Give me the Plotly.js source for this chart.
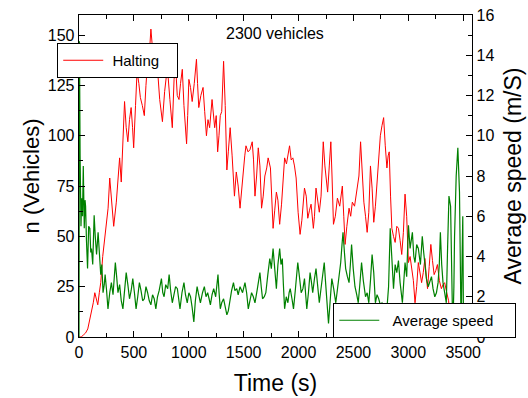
<!DOCTYPE html>
<html>
<head>
<meta charset="utf-8">
<script src="https://cdn.plot.ly/plotly-3.0.1.min.js"></script>
<style>
html,body{margin:0;padding:0;background:#fff;}
#chart{width:528px;height:398px;}
</style>
</head>
<body>
<div id="chart"></div>
<script>
// Halting vehicles (left axis)
const haltTime = [0,20,40,60,80,100,114,130,144,160,171,185,198,216,232,250,265,280,298,316,340,355,370,385,400,415,430,445,460,475,488,498,515,529,545,559,577,595,610,625,640,655,670,685,698,710,735,760,780,805,828,850,866,880,895,911,925,941,956,970,980,990,1001,1016,1031,1050,1070,1080,1091,1110,1130,1145,1161,1175,1190,1212,1225,1236,1250,1263,1275,1287,1300,1317,1332,1347,1360,1377,1395,1416,1433,1450,1467,1480,1497,1510,1521,1540,1557,1578,1590,1603,1618,1633,1648,1663,1678,1693,1710,1723,1744,1755,1768,1783,1798,1812,1828,1845,1860,1873,1890,1905,1918,1933,1948,1963,1978,1996,2014,2030,2054,2070,2084,2100,2114,2135,2145,2159,2175,2189,2205,2225,2240,2249,2265,2280,2294,2305,2318,2335,2354,2375,2399,2412,2424,2440,2460,2475,2490,2510,2535,2550,2565,2580,2595,2610,2625,2640,2655,2670,2685,2700,2715,2730,2745,2760,2775,2790,2805,2816,2826,2838,2850,2865,2880,2895,2910,2925,2940,2955,2970,2985,3001,3016,3031,3046,3061,3076,3091,3106,3121,3136,3151,3163,3175,3190,3205,3220,3235,3250,3265,3283,3301,3316,3331,3350,3367,3380,3391,3403,3415,3425,3436,3451,3466,3481,3496,3511,3526,3545,3571];
const haltCount = [0,0,1,2,4,9,14,17,22,19,16,22,27,40,47,57,64,79,66,55,67,80,89,77,100,117,104,97,108,114,104,94,115,132,126,119,115,110,125,137,140,153,143,130,139,137,118,107,122,134,118,104,128,135,120,118,126,133,115,105,96,110,128,124,117,126,138,126,114,120,124,112,100,108,104,118,112,104,110,92,100,110,112,137,115,83,92,104,90,70,82,75,64,72,85,90,95,92,93,97,88,70,80,94,85,64,70,80,84,89,84,70,54,63,72,68,56,66,80,89,86,92,95,88,89,85,79,62,51,58,74,70,59,63,66,54,60,74,66,62,70,97,85,80,72,85,97,80,56,60,69,65,75,60,46,55,64,60,67,65,74,80,97,80,67,60,52,62,85,74,57,65,77,88,100,105,109,95,84,90,92,70,54,50,47,55,54,48,41,52,71,60,37,40,34,28,17,25,37,32,27,32,39,30,24,35,46,38,31,33,36,28,24,26,27,22,18,8,1,5,9,5,2.5,3,4,3,4,6,7.5,8,10];

// Average speed (right axis, m/s)
const speedTime = [0,4,10,18,24,32,39,48,55,60,68,78,88,99,107,114,125,138,148,160,174,186,198,208,219,230,238,250,264,280,295,310,331,343,355,370,385,400,415,430,445,460,475,490,505,520,535,550,565,580,595,610,625,640,655,670,685,700,715,730,751,763,775,790,808,821,835,850,865,880,896,908,920,938,956,970,986,1001,1016,1030,1046,1060,1076,1090,1106,1125,1142,1157,1172,1185,1197,1212,1227,1245,1266,1276,1287,1300,1317,1332,1347,1360,1371,1390,1407,1420,1437,1450,1467,1490,1512,1527,1542,1557,1572,1588,1603,1625,1648,1660,1672,1688,1702,1720,1738,1752,1768,1783,1798,1812,1828,1840,1852,1862,1873,1888,1903,1914,1924,1940,1954,1970,1993,2008,2024,2040,2054,2065,2075,2090,2105,2118,2129,2145,2159,2175,2189,2200,2213,2234,2245,2255,2265,2273,2288,2303,2320,2339,2355,2370,2384,2396,2405,2418,2429,2445,2460,2472,2483,2498,2514,2530,2544,2558,2574,2590,2610,2625,2640,2655,2670,2685,2700,2715,2730,2745,2760,2775,2790,2805,2820,2835,2850,2865,2880,2895,2910,2925,2946,2958,2970,2985,3001,3016,3037,3050,3061,3076,3091,3110,3127,3140,3151,3165,3181,3195,3211,3225,3241,3256,3271,3282,3292,3304,3316,3331,3346,3358,3370,3385,3395,3405,3415,3421,3436,3451,3466,3475,3481,3490,3496,3503,3510];
const speedValue = [0,14.7,9,5.5,6.9,6.0,8.5,5.4,6.8,6.5,4.8,3.4,5.5,5.4,4.2,4.4,3.6,6.05,5.0,4.1,5.2,3.8,3.1,3.6,2.2,2.6,3.1,2.4,1.4,2.2,2.7,2.1,3.7,3.0,2.2,2.6,1.8,1.4,2.3,3.2,2.6,1.9,2.3,2.9,2.2,1.4,2.0,2.7,2.3,1.8,1.9,2.5,2.2,1.8,1.6,2.1,1.9,1.4,2.0,2.3,2.9,2.2,2.0,2.6,2.4,3.1,2.3,1.7,2.1,2.5,2.4,1.9,1.4,2.2,2.7,2.1,1.7,2.2,2.0,1.5,0.75,1.8,2.5,2.1,1.7,2.2,2.5,2.0,2.2,1.9,1.6,2.1,2.4,2.0,3.1,2.2,1.4,1.7,1.9,1.5,1.1,1.3,1.7,2.3,2.7,2.3,2.4,2.1,2.5,2.2,2.7,2.2,1.4,1.8,2.2,2.0,1.7,2.4,3.2,2.5,1.9,2.0,2.2,3.1,3.9,3.4,4.4,3.4,2.4,3.6,4.4,3.6,3.9,2.6,1.4,2.0,1.7,2.2,2.4,1.9,1.4,2.3,3.7,3.0,2.2,2.4,2.9,2.1,1.4,2.2,3.2,2.7,2.2,2.9,3.4,2.5,1.7,2.2,2.9,3.7,2.8,1.9,1.2,0.67,1.8,2.9,2.4,1.7,2.4,3.1,3.7,4.6,5.2,4.2,3.4,3.0,2.7,3.6,4.6,3.4,2.5,2.1,1.7,2.6,3.7,2.8,2.0,2.2,1.7,2.8,4.1,3.2,1.7,2.1,1.9,1.6,1.7,1.5,1.2,1.4,2.5,5.4,4.1,2.4,3.6,3.2,3.8,2.7,1.7,2.6,3.7,3.0,5.55,4.4,5.2,4.0,3.7,4.6,4.4,3.6,5.0,4.2,3.5,2.9,2.5,2.8,3.0,2.4,2.0,2.2,2.7,3.6,5.2,3.6,2.7,2.2,1.7,4.5,7.0,6.5,3.5,0.2,2.5,5.0,8.0,9.4,7.2,3.0,0.3,4.0,6.0,0.2,0];

const FONT = '"Liberation Sans", Arial, sans-serif';
const NB = '\u00a0';

const traces = [
  {x: haltTime, y: haltCount, type: 'scatter', mode: 'lines',
   name: NB + 'Halting' + NB.repeat(3),
   line: {color: '#ff0000', width: 1}, yaxis: 'y', legend: 'legend'},
  {x: speedTime, y: speedValue, type: 'scatter', mode: 'lines',
   name: NB.repeat(2) + 'Average speed' + NB.repeat(4),
   line: {color: '#008000', width: 1.2}, yaxis: 'y2', legend: 'legend2'}
];

const axisCommon = {
  showline: true, linecolor: '#000', linewidth: 1.3,
  ticks: 'inside', ticklen: 6, tickwidth: 1, tickcolor: '#000',
  showgrid: false, zeroline: false,
  tickfont: {family: FONT, size: 16, color: '#000'}
};

const layout = {
  width: 528, height: 398,
  margin: {l: 79, r: 52, t: 15, b: 61, pad: 0},
  paper_bgcolor: '#fff', plot_bgcolor: '#fff',
  font: {family: FONT, color: '#000'},
  showlegend: true,
  xaxis: Object.assign({}, axisCommon, {
    range: [0, 3580], tick0: 0, dtick: 500, mirror: 'ticks',
    minor: {dtick: 250, ticks: 'inside', ticklen: 4, tickcolor: '#000', showgrid: false},
    title: {text: 'Time (s)', font: {family: FONT, size: 23, color: '#000'}, standoff: 15}
  }),
  yaxis: Object.assign({}, axisCommon, {
    range: [0, 160], tick0: 0, dtick: 25,
    minor: {dtick: 12.5, ticks: 'inside', ticklen: 4, tickcolor: '#000', showgrid: false},
    title: {text: 'n (Vehicles)', font: {family: FONT, size: 22, color: '#000'}, standoff: 2}
  }),
  yaxis2: Object.assign({}, axisCommon, {
    overlaying: 'y', side: 'right', range: [0, 16], tick0: 0, dtick: 2,
    minor: {dtick: 1, ticks: 'inside', ticklen: 4, tickcolor: '#000', showgrid: false},
    title: {text: 'Average speed (m/S)', font: {family: FONT, size: 23, color: '#000'}, standoff: 11}
  }),
  legend: {
    x: -0.0554, xanchor: 'left', y: 0.913, yanchor: 'top',
    bgcolor: '#fff', bordercolor: '#000', borderwidth: 1,
    font: {family: FONT, size: 15, color: '#000'}, itemwidth: 40
  },
  legend2: {
    x: 0.647, xanchor: 'left', y: 0.1056, yanchor: 'top',
    bgcolor: '#fff', bordercolor: '#000', borderwidth: 1,
    font: {family: FONT, size: 15, color: '#000'}, itemwidth: 40
  },
  annotations: [{
    text: '2300 vehicles', xref: 'paper', yref: 'paper', x: 0.4987, y: 0.944,
    xanchor: 'center', yanchor: 'middle', showarrow: false,
    font: {family: FONT, size: 16, color: '#000'}
  }]
};

Plotly.newPlot('chart', traces, layout, {displayModeBar: false, staticPlot: true});
</script>
</body>
</html>
